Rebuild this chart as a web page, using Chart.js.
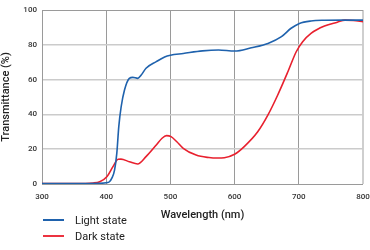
<!DOCTYPE html>
<html><head><meta charset="utf-8">
<script src="https://cdn.jsdelivr.net/npm/chart.js@4/dist/chart.umd.min.js"></script>
<style>
html,body{margin:0;padding:0;background:#fff;}
#wrap{position:relative;width:370px;height:250px;}
canvas{position:absolute;left:0;top:0;}
.lg{position:absolute;left:43px;font-family:Roboto,"Open Sans",sans-serif;font-size:11px;color:#222;line-height:14px;height:14px;}
.lg i{display:inline-block;width:21px;height:2px;vertical-align:middle;margin-right:11px;position:relative;top:-1px;}
</style></head>
<body><div id="wrap"><canvas id="c" width="370" height="250"></canvas>
<div class="lg" style="top:214px"><i style="background:#1f62ad"></i>Light state</div>
<div class="lg" style="top:230px"><i style="background:#ec3340"></i>Dark state</div>
</div>
<script>
const lightWl = [300,350,390,400,405,409,413,416.5,419.6,423.3,428.5,436,441.5,449,454.5,462,478,491,500,520,550,575,600,626,652,673,688,701,719,740,770,800];
const lightT  = [0.3,0.3,0.4,0.7,1.3,3.5,8,17.6,33,44.4,54,60.7,61.3,60.7,62.6,66.5,70.3,73,74,75,76.5,77,76.4,78.3,80.8,84.7,89.5,92.3,93.7,94.1,94.2,94.2];
const darkWl  = [300,350,380,390,401,411,418.5,423,436,449,462,478,487,494,501,510,520,540,560,573,584,600,615,636,652,667,683,696,706,719,740,760,772,785,800];
const darkT   = [0.3,0.3,0.6,1.3,4.2,10.3,14.2,14.3,12.8,11.5,15.7,22.4,26.3,27.8,27.2,24.3,20.5,16.6,15.2,14.9,15.1,17.1,21.5,30,39.7,51,64.5,76,81.8,86.6,90.8,93,94.2,94,93.3];
const xTicks = [300,400,500,600,700,800];
const yTicks = [0,20,40,60,80,100];

const pts = (xs, ys) => xs.map((x,i)=>({x, y: ys[i]}));
const tickFont = {family:'Roboto, sans-serif', size:8, weight:'500'};
new Chart(document.getElementById('c'), {
  type:'line',
  data:{datasets:[
    {label:'Light state', data:pts(lightWl,lightT), borderColor:'#1f62ad', borderWidth:1.6, pointRadius:0, cubicInterpolationMode:'monotone', fill:false},
    {label:'Dark state', data:pts(darkWl,darkT), borderColor:'#e8202e', borderWidth:1.6, pointRadius:0, cubicInterpolationMode:'monotone', fill:false}
  ]},
  options:{
    responsive:false, animation:false, devicePixelRatio:1,
    layout:{padding:{left:0,right:7,top:10,bottom:26}},
    plugins:{legend:{display:false}, tooltip:{enabled:false}},
    scales:{
      x:{type:'linear', min:300, max:800,
        afterBuildTicks:a=>{a.ticks = xTicks.map(v=>({value:v}));},
        afterFit:a=>{a.height=40; a.paddingRight=0; a.paddingLeft=0;},
        grid:{color:ctx=> ctx.tick && ctx.tick.value===800 ? '#cfcfcf' : '#9a9a9a', lineWidth:ctx=> ctx.tick && ctx.tick.value===800 ? 2 : 1, drawTicks:false},
        border:{display:false},
        ticks:{font:tickFont, color:'#333', padding:8, maxRotation:0},
        title:{display:true, text:'Wavelength (nm)', font:{family:'Roboto, sans-serif', size:11, weight:'500'}, color:'#222', padding:{top:0,bottom:2}}
      },
      y:{min:0, max:100,
        afterBuildTicks:a=>{a.ticks = yTicks.map(v=>({value:v}));},
        afterFit:a=>{a.width=42;},
        grid:{color:ctx=> ctx.tick && (ctx.tick.value===100 || ctx.tick.value===0) ? '#9a9a9a' : '#cbcbcb', lineWidth:ctx=> ctx.tick && (ctx.tick.value===100 || ctx.tick.value===0) ? 1 : 1.5, drawTicks:false},
        border:{display:true, color:'#9a9a9a', width:1},
        ticks:{font:tickFont, color:'#333', padding:5},
        title:{display:true, text:'Transmittance (%)', font:{family:'Roboto, sans-serif', size:11, weight:'500'}, color:'#222', padding:{top:0,bottom:4}}
      }
    }
  }
});
</script></body></html>
